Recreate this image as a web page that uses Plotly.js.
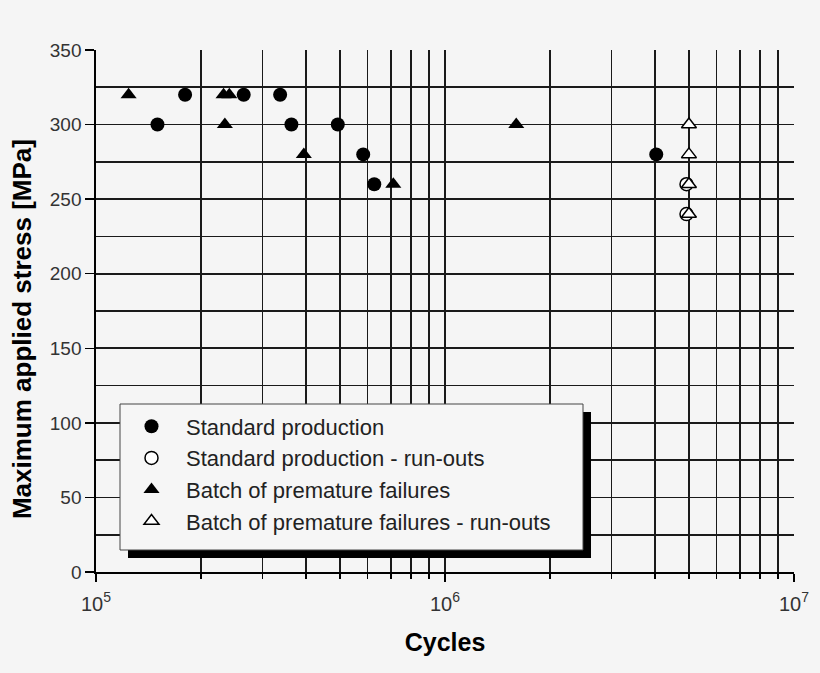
<!DOCTYPE html>
<html>
<head>
<meta charset="utf-8">
<script src="https://cdn.plot.ly/plotly-3.0.1.min.js"></script>
<style>
  html, body { margin: 0; padding: 0; background: #f5f5f5; }
  #chart { width: 820px; height: 673px; }
</style>
</head>
<body>
<div id="chart"></div>
<script>
// ---- Data ----
const stdCycles   = [1.5e5, 1.8e5, 2.65e5, 3.37e5, 3.63e5, 4.93e5, 5.83e5, 6.27e5, 4.03e6];
const stdStress   = [300, 320, 320, 320, 300, 300, 280, 260, 280];

const stdRunCycles = [4.92e6, 4.92e6];
const stdRunStress = [260, 240];

const batCycles   = [1.24e5, 2.32e5, 2.41e5, 2.34e5, 3.94e5, 7.11e5, 1.60e6];
const batStress   = [320, 320, 320, 300, 280, 260, 300];

const batRunCycles = [5e6, 5e6, 5e6, 5e6];
const batRunStress = [300, 280, 260, 240];

const seriesNames = [
  'Standard production',
  'Standard production - run-outs',
  'Batch of premature failures',
  'Batch of premature failures - run-outs'
];

const decades = [5, 6, 7];
const xTickVals = [1e5, 1e6, 1e7];
const xTickText = ['10<sup>5</sup>', '10<sup>6</sup>', '10<sup>7</sup>'];
const yTicks = [0, 50, 100, 150, 200, 250, 300, 350];

// ---- Minor gridlines on the log axis: 2..9 x each decade ----
const xMinorVals = [];
for (let i = 0; i < decades.length - 1; i++) {
  for (let m = 2; m <= 9; m++) xMinorVals.push(m * Math.pow(10, decades[i]));
}

const FONT = 'Arial, "Liberation Sans", sans-serif';
const GRID = '#1a1a1a';

const traces = [
  {
    x: stdCycles, y: stdStress, name: seriesNames[0], type: 'scatter', mode: 'markers',
    legendgroup: 'a',
    marker: { symbol: 'circle', size: 14, color: '#000' }
  },
  {
    x: stdRunCycles, y: stdRunStress, name: seriesNames[1], type: 'scatter', mode: 'markers',
    legendgroup: 'b',
    marker: { symbol: 'circle', size: 13, color: '#ffffff', line: { color: '#000', width: 1.5 } }
  },
  {
    x: batCycles, y: batStress, name: seriesNames[2], type: 'scatter', mode: 'markers',
    legendgroup: 'c',
    marker: { symbol: 'triangle-up', size: 14, color: '#000' }
  },
  {
    x: batRunCycles, y: batRunStress, name: seriesNames[3], type: 'scatter', mode: 'markers',
    legendgroup: 'd',
    marker: { symbol: 'triangle-up', size: 13, color: '#ffffff', line: { color: '#000', width: 1.5 } }
  }
];

const px = (v) => (v - 96) / 698;      // paper x from pixel
const py = (v) => (572 - v) / 522;     // paper y from pixel

const layout = {
  width: 820,
  height: 673,
  paper_bgcolor: '#f5f5f5',
  plot_bgcolor: '#f5f5f5',
  margin: { l: 96, r: 26, t: 50, b: 101, pad: 0 },
  font: { family: FONT, color: '#222' },
  showlegend: true,
  xaxis: {
    type: 'log',
    range: [decades[0], decades[decades.length - 1]],
    tickvals: xTickVals,
    ticktext: xTickText,
    tickfont: { family: FONT, size: 20, color: '#333' },
    ticklabelstandoff: 5,
    ticks: 'outside', ticklen: 8, tickwidth: 1.5, tickcolor: '#000',
    showgrid: true, gridcolor: GRID, gridwidth: 1.7,
    minor: { tickvals: xMinorVals, showgrid: true, gridcolor: GRID, gridwidth: 1.7,
             ticks: 'outside', ticklen: 5, tickwidth: 1.5, tickcolor: '#000' },
    showline: true, linecolor: '#000', linewidth: 1.7,
    zeroline: false,
    title: { text: 'Cycles', font: { family: FONT, size: 25, weight: 'bold', color: '#000' }, standoff: 20 }
  },
  yaxis: {
    range: [0, 350],
    tickvals: yTicks,
    tickfont: { family: FONT, size: 19, color: '#333' },
    ticks: 'outside', ticklen: 9, tickwidth: 1.5, tickcolor: '#000',
    showgrid: true, gridcolor: GRID, gridwidth: 1.7,
    minor: { dtick: 25, showgrid: true, gridcolor: GRID, gridwidth: 1.7, ticks: '' },
    showline: true, linecolor: '#000', linewidth: 1.7,
    zeroline: false,
    title: { text: 'Maximum applied stress [MPa]&nbsp;&nbsp;&nbsp;&nbsp;&nbsp;', font: { family: FONT, size: 26, weight: 'bold', color: '#000' }, standoff: 11 }
  },
  legend: {
    x: px(117), y: py(405.5), xanchor: 'left', yanchor: 'top',
    bgcolor: 'rgba(0,0,0,0)', borderwidth: 0,
    font: { family: FONT, size: 22, color: '#222' },
    tracegroupgap: 0,
    itemwidth: 59
  },
  shapes: [
    { type: 'rect', xref: 'paper', yref: 'paper', layer: 'above',
      x0: px(128), x1: px(591), y0: py(412), y1: py(558),
      fillcolor: '#000', line: { width: 0 } },
    { type: 'rect', xref: 'paper', yref: 'paper', layer: 'above',
      x0: px(120), x1: px(583), y0: py(404), y1: py(550),
      fillcolor: '#f6f6f6', line: { color: '#444', width: 1 } }
  ]
};

Plotly.newPlot('chart', traces, layout, { displayModeBar: false, staticPlot: true });
</script>
</body>
</html>
